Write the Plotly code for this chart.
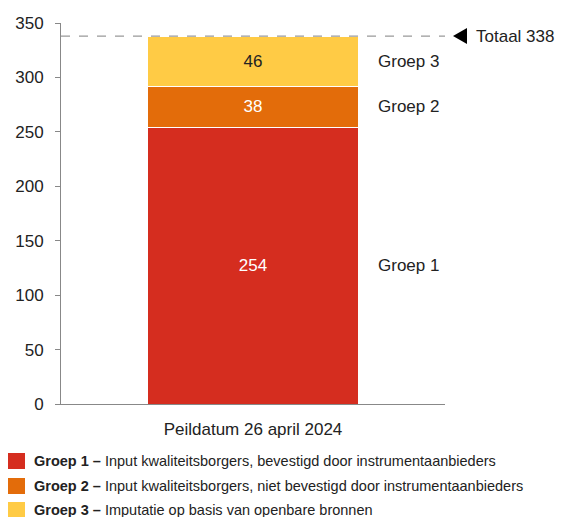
import plotly.graph_objects as go

category = ["Peildatum 26 april 2024"]
groups = ["Groep 1", "Groep 2", "Groep 3"]
values = [254, 38, 46]
descriptions = [
    "Input kwaliteitsborgers, bevestigd door instrumentaanbieders",
    "Input kwaliteitsborgers, niet bevestigd door instrumentaanbieders",
    "Imputatie op basis van openbare bronnen",
]
colors = ["#D52D1F", "#E36C0A", "#FFCB45"]
label_colors = ["white", "white", "#222222"]
y_ticks = [0, 50, 100, 150, 200, 250, 300, 350]

FONT = "Liberation Sans"
TXT = "#222222"
total = sum(values)

W, H = 555, 509
L, T, R, B = 53, 15, 118, 113
plot_h = H - T - B

fig = go.Figure()
for g, v, c, lc in zip(groups, values, colors, label_colors):
    fig.add_trace(go.Bar(
        x=category, y=[v], name=g, marker=dict(color=c, line=dict(color="white", width=1)),
        text=[str(v)], textposition="inside", insidetextanchor="middle",
        textfont=dict(color=lc, size=17, family=FONT), width=0.55, showlegend=False,
    ))

fig.update_layout(
    barmode="stack", width=W, height=H,
    margin=dict(l=L, r=R, t=T, b=B, autoexpand=False),
    plot_bgcolor="white", paper_bgcolor="white",
    font=dict(family=FONT, color=TXT),
    uniformtext=dict(mode="show", minsize=10),
)
fig.update_yaxes(range=[0, 350], tickvals=y_ticks, ticks="outside", ticklen=5,
                 tickcolor="#888888", showline=True, linecolor="#888888", linewidth=1,
                 showgrid=False, zeroline=False, ticklabelstandoff=8, automargin=False,
                 tickfont=dict(size=17, family=FONT, color=TXT))
fig.update_xaxes(showline=True, linecolor="#888888", linewidth=1, ticks="", automargin=False,
                 ticklabelstandoff=10, tickfont=dict(size=17, family=FONT, color=TXT))

# total dashed line with arrow marker and label
fig.add_shape(type="line", xref="paper", yref="y", x0=0, x1=1, y0=total, y1=total,
              line=dict(color="#999999", width=1.2, dash="dash"))
fig.add_shape(type="path", xref="paper", yref="y", xsizemode="pixel", ysizemode="pixel",
              xanchor=1, yanchor=total, path="M 8 0 L 22 8 L 22 -8 Z",
              fillcolor="black", line=dict(color="black", width=0))
fig.add_annotation(xref="paper", yref="y", x=1, y=total, xshift=29, xanchor="left",
                   text="Totaal " + str(total), showarrow=False,
                   font=dict(size=17, family=FONT, color=TXT))

# group labels to the right of the bar
cum = 0
for g, v in zip(groups, values):
    mid = cum + v / 2
    cum += v
    fig.add_annotation(xref="paper", yref="y", x=0.82, y=mid, xanchor="left",
                       text=g, showarrow=False, font=dict(size=17, family=FONT, color=TXT))

# legend below the chart
leg_rows = [453, 478, 502]  # figure pixel rows
for (g, d, c), fy in zip(zip(groups, descriptions, colors), leg_rows):
    yp = (T + plot_h - fy) / plot_h
    fig.add_shape(type="rect", xref="paper", yref="paper", xsizemode="pixel", ysizemode="pixel",
                  xanchor=0, yanchor=yp, x0=-L, x1=-L + 17, y0=-8, y1=8,
                  fillcolor=c, line=dict(width=0))
    fig.add_annotation(xref="paper", yref="paper", x=0, y=yp, xshift=-L + 24, xanchor="left",
                       yanchor="middle", text="<b>" + g + " –</b> " + d, showarrow=False,
                       font=dict(size=14.5, family=FONT, color=TXT))

fig.write_html("out.html")
